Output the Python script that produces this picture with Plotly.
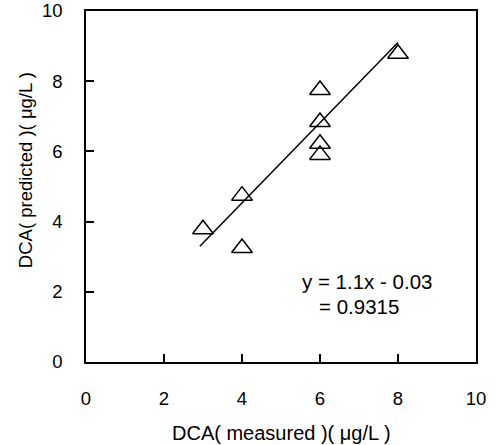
import plotly.graph_objects as go

# Data
measured = [3, 4, 4, 6, 6, 6, 6, 8]
predicted = [3.78, 4.74, 3.25, 7.75, 6.84, 6.22, 5.90, 8.78]
fit_x = [2.92, 8.0]
fit_y = [3.30, 9.10]
tick_vals = [0, 2, 4, 6, 8, 10]
eq_text = "y = 1.1x - 0.03"
r2_text = "= 0.9315"
x_title = "DCA( measured )( μg/L )"
y_title = "DCA( predicted )( μg/L )"

FONT = "Arial, Liberation Sans, sans-serif"

fig = go.Figure()
fig.add_trace(go.Scatter(
    x=fit_x, y=fit_y, mode="lines",
    line=dict(color="black", width=1.5), showlegend=False,
))
fig.add_trace(go.Scatter(
    x=measured, y=predicted, mode="markers",
    marker=dict(symbol="triangle-up-open", size=18, color="black",
                line=dict(width=1.5, color="black")),
    showlegend=False,
))

axis_common = dict(
    showgrid=False, zeroline=False, showline=True, linecolor="black",
    linewidth=1.5, mirror=True, ticks="inside", ticklen=8, tickwidth=1.5,
    tickcolor="black", tickvals=tick_vals, automargin=False,
    tickfont=dict(family=FONT, size=18.5, color="black"),
)
fig.update_xaxes(range=[0, 10], ticklabelstandoff=19, **axis_common)
fig.update_yaxes(range=[0, 10], ticklabelstandoff=18, **axis_common)

fig.add_annotation(x=5.49, y=2.28, xref="x", yref="y", text=eq_text,
                   showarrow=False, xanchor="left", yanchor="middle",
                   font=dict(family=FONT, size=20.5, color="black"))
fig.add_annotation(x=5.92, y=1.57, xref="x", yref="y", text=r2_text,
                   showarrow=False, xanchor="left", yanchor="middle",
                   font=dict(family=FONT, size=20.5, color="black"))
fig.add_annotation(x=0.5, y=-0.2023, xref="paper", yref="paper", text=x_title,
                   showarrow=False, xanchor="center", yanchor="middle",
                   font=dict(family=FONT, size=20, color="black"))
fig.add_annotation(x=-0.156, y=0.547, xref="paper", yref="paper", text=y_title,
                   showarrow=False, xanchor="center", yanchor="middle", textangle=-90,
                   font=dict(family=FONT, size=18.5, color="black"))

fig.update_layout(
    width=496, height=445,
    margin=dict(l=86, r=20, t=11, b=83),
    plot_bgcolor="white", paper_bgcolor="white",
)
fig.write_html("out.html")
